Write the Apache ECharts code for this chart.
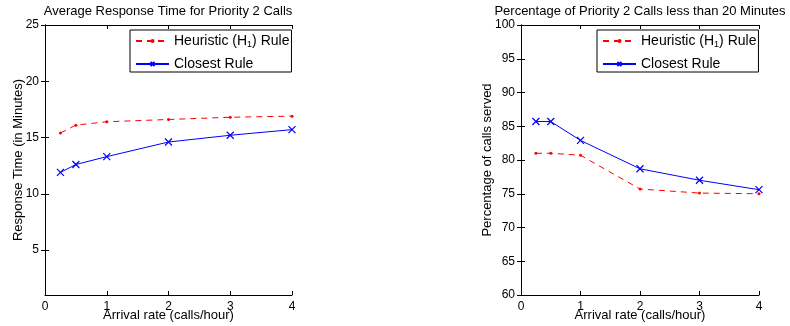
<!DOCTYPE html>
<html>
<head>
<meta charset="utf-8">
<script src="https://cdn.jsdelivr.net/npm/echarts@6/dist/echarts.min.js"></script>
<style>
  html, body { margin: 0; padding: 0; background: #fff; }
  #chart { width: 790px; height: 326px; }
</style>
</head>
<body>
<div id="chart"></div>
<script>
// Arrival rates (calls/hour)
const arrivalRates = [0.25, 0.5, 1, 2, 3, 4];

// Average response time for priority 2 calls (minutes)
const respHeuristic = [15.4, 16.1, 16.4, 16.6, 16.8, 16.9];
const respClosest = [11.9, 12.6, 13.3, 14.6, 15.2, 15.7];

// Percentage of priority 2 calls served within 20 minutes
const pctHeuristic = [81.0, 81.0, 80.7, 75.7, 75.1, 75.0];
const pctClosest = [85.7, 85.7, 82.9, 78.7, 77.0, 75.6];

// Tick labels
const xTicks = [0, 1, 2, 3, 4];
const leftYTicks = [5, 10, 15, 20, 25];
const rightYTicks = [60, 65, 70, 75, 80, 85, 90, 95, 100];

const titles = ['Average Response Time for Priority 2 Calls',
                'Percentage of Priority 2 Calls less than 20 Minutes'];
const yNames = ['Response Time (in Minutes)', 'Percentage of calls served'];
const xName = 'Arrival rate (calls/hour)';
const seriesNames = ['Heuristic (H1) Rule', 'Closest Rule'];

const FONT = 'Liberation Sans, Arial, Helvetica, sans-serif';
const RED = '#ff0000';
const BLUE = '#0000ff';
const crossPath = 'path://M0,0L10,10M10,0L0,10';

const toPts = vals => arrivalRates.map((x, i) => [x, vals[i]]);

// Boxed axes: labelled bottom/left axes plus unlabelled top/right axes
// so that inward ticks appear on all four sides.
function frameAxes(gridIndex, yMin, yMax, yTicks) {
  const tick = { show: true, inside: true, length: 4, lineStyle: { color: '#000', width: 1 } };
  const line = { show: true, lineStyle: { color: '#000', width: 1 } };
  const lbl = { color: '#000', fontFamily: FONT, fontSize: 12 };
  const nameStyle = { color: '#000', fontFamily: FONT, fontSize: 13 };
  const xs = [
    { gridIndex, type: 'value', min: 0, max: 4, position: 'bottom',
      axisLine: line, axisTick: Object.assign({}, tick, { customValues: xTicks }),
      axisLabel: Object.assign({}, lbl, { customValues: xTicks, margin: 6 }),
      splitLine: { show: false },
      name: xName, nameLocation: 'middle', nameGap: 14, nameMoveOverlap: false,
      nameTextStyle: nameStyle },
    { gridIndex, type: 'value', min: 0, max: 4, position: 'top',
      axisLine: line, axisTick: Object.assign({}, tick, { customValues: xTicks }),
      axisLabel: { show: false }, splitLine: { show: false } }
  ];
  const ys = [
    { gridIndex, type: 'value', min: yMin, max: yMax, position: 'left',
      axisLine: line, axisTick: Object.assign({}, tick, { customValues: yTicks }),
      axisLabel: Object.assign({}, lbl, { customValues: yTicks, margin: 6 }),
      splitLine: { show: false },
      name: yNames[gridIndex], nameLocation: 'middle', nameMoveOverlap: false,
      nameGap: gridIndex === 0 ? 20.5 : 27.5,
      nameTextStyle: nameStyle },
    { gridIndex, type: 'value', min: yMin, max: yMax, position: 'right',
      axisLine: line, axisTick: Object.assign({}, tick, { customValues: yTicks }),
      axisLabel: { show: false }, splitLine: { show: false } }
  ];
  return { xs, ys };
}

const a0 = frameAxes(0, 1, 25, leftYTicks);
const a1 = frameAxes(1, 60, 100, rightYTicks);

function heurSeries(xi, yi, data) {
  return {
    name: seriesNames[0], type: 'line', xAxisIndex: xi, yAxisIndex: yi,
    data: toPts(data), symbol: 'circle', symbolSize: 3,
    lineStyle: { color: RED, width: 1, type: [6, 5] },
    itemStyle: { color: RED }, animation: false, silent: true
  };
}
function closestSeries(xi, yi, data) {
  return {
    name: seriesNames[1], type: 'line', xAxisIndex: xi, yAxisIndex: yi,
    data: toPts(data), symbol: crossPath, symbolSize: 7,
    lineStyle: { color: BLUE, width: 1 },
    itemStyle: { color: 'none', borderColor: BLUE, borderWidth: 1.2 },
    animation: false, silent: true
  };
}

function legendAt(left) {
  return {
    left: left, top: 30, orient: 'vertical',
    itemWidth: 33, itemHeight: 5, itemGap: 8,
    padding: [4, 2, 1, 5],
    borderColor: '#000', borderWidth: 1, backgroundColor: '#fff',
    selectedMode: false,
    data: seriesNames,
    formatter: name => name === seriesNames[0] ? 'Heuristic (H{sub|1}) Rule' : name,
    textStyle: {
      color: '#000', fontFamily: FONT, fontSize: 14,
      rich: { sub: { fontSize: 9, verticalAlign: 'bottom', padding: [7, 0, 0, 0], fontFamily: FONT, color: '#000' } }
    }
  };
}

const titleStyle = { fontFamily: FONT, fontSize: 13, fontWeight: 'normal', color: '#000' };

const chart = echarts.init(document.getElementById('chart'), null, { renderer: 'canvas' });
chart.setOption({
  animation: false,
  backgroundColor: '#fff',
  title: [
    { text: titles[0], left: 168, top: 5, textAlign: 'center', padding: 0, textStyle: titleStyle },
    { text: titles[1], left: 640, top: 5, textAlign: 'center', padding: 0, textStyle: titleStyle }
  ],
  grid: [
    { left: 45, right: 498, top: 25, bottom: 31, outerBoundsMode: 'none' },
    { left: 521, right: 31, top: 25, bottom: 31, outerBoundsMode: 'none' }
  ],
  xAxis: [...a0.xs, ...a1.xs],
  yAxis: [...a0.ys, ...a1.ys],
  legend: [legendAt(130), legendAt(597)],
  series: [
    heurSeries(0, 0, respHeuristic),
    closestSeries(0, 0, respClosest),
    heurSeries(2, 2, pctHeuristic),
    closestSeries(2, 2, pctClosest)
  ]
});
</script>
</body>
</html>
